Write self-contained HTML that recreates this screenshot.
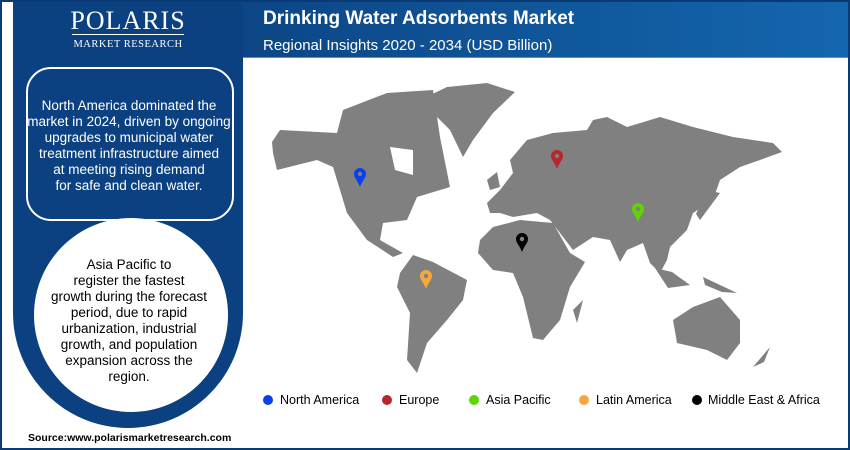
<!DOCTYPE html>
<html><head><meta charset="utf-8"><style>
body{margin:0;width:850px;height:450px;overflow:hidden;background:#fff;font-family:"Liberation Sans",Arial,sans-serif}
#f{position:absolute;left:0;top:0;width:846px;height:446px;border:2px solid #0a3a73;}
</style></head><body>
<div id="f"></div>
<svg width="850" height="450" style="position:absolute;left:0;top:0">
<defs><linearGradient id="hg" x1="0" x2="1"><stop offset="0" stop-color="#0c4686"/><stop offset="1" stop-color="#1466ae"/></linearGradient></defs>
<rect x="243" y="2" width="605" height="56" fill="url(#hg)"/>
<rect x="243" y="57" width="605" height="1" fill="#5b8fc8"/>
<path d="M13 2 H243 V313 A115 115 0 0 1 13 313 Z" fill="#0b4181"/>
<circle cx="131" cy="315" r="97" fill="#fff"/>
<rect x="27" y="68" width="206" height="152" rx="24" fill="none" stroke="#fff" stroke-width="2"/>
<text x="128" y="29" text-anchor="middle" fill="#fff" font-family="Liberation Serif,serif" font-size="26" letter-spacing="1">POLARIS</text>
<rect x="72" y="34" width="112" height="1" fill="#fff"/>
<text x="128" y="47" text-anchor="middle" fill="#fff" font-family="Liberation Serif,serif" font-size="10.5" letter-spacing="0.5">MARKET RESEARCH</text>
<g fill="#fff" font-size="13.5" text-anchor="middle">
<text x="129" y="110">North America dominated the</text>
<text x="129" y="126">market in 2024, driven by ongoing</text>
<text x="129" y="142">upgrades to municipal water</text>
<text x="129" y="158">treatment infrastructure aimed</text>
<text x="129" y="174">at meeting rising demand</text>
<text x="129" y="190">for safe and clean water.</text>
</g>
<g fill="#000" font-size="13.5" text-anchor="middle">
<text x="129" y="269">Asia Pacific to</text>
<text x="129" y="285">register the fastest</text>
<text x="129" y="301">growth during the forecast</text>
<text x="129" y="317">period, due to rapid</text>
<text x="129" y="333">urbanization, industrial</text>
<text x="129" y="349">growth, and population</text>
<text x="129" y="365">expansion across the</text>
<text x="129" y="381">region.</text>
</g>
<text x="28" y="441" font-size="10.5" font-weight="bold" fill="#000">Source:www.polarismarketresearch.com</text>
<text x="263" y="24" font-size="19" font-weight="bold" fill="#fff">Drinking Water Adsorbents Market</text>
<text x="263" y="50" font-size="15" fill="#fff">Regional Insights 2020 - 2034 (USD Billion)</text>
<g fill="#808080">
<polygon points="272,142 280,130 337,133 343,110 387,93 433,90 440,137 450,187 417,197 407,220 383,223 380,240 403,253 393,257 367,240 347,213 340,190 333,167 317,160 277,170 273,153"/>
<polygon points="420,100 447,87 487,83 515,92 493,113 473,140 463,157 450,130"/>
<polygon points="400,273 413,255 433,262 467,280 463,300 447,320 427,343 417,373 407,360 410,313 397,287"/>
<polygon points="490,213 487,203 500,190 513,173 510,160 527,140 553,133 587,130 593,120 607,117 627,127 660,117 693,127 733,137 773,143 782,152 760,160 740,167 720,180 713,200 693,213 687,230 670,247 667,260 660,273 650,263 643,243 627,250 620,262 610,240 593,237 573,250 560,233 550,220 537,213 513,217 500,213"/>
<polygon points="480,240 493,227 520,220 553,223 570,253 585,262 570,287 560,320 543,340 533,338 523,297 513,273 493,270 478,253"/>
<polygon points="573,310 583,300 577,323"/>
<polygon points="673,320 693,307 720,297 740,320 740,343 727,360 707,350 677,343"/>
<polygon points="707,190 720,193 700,220 696,214"/>
<polygon points="487,180 497,172 500,187 490,190"/>
<polygon points="655,268 672,272 690,285 668,288"/>
<polygon points="703,277 737,293 722,292 705,285"/>
<polygon points="753,367 770,347 764,362"/>
</g>
<path d="M390 147 L413 150 L413 175 L395 170 Z" fill="#fff"/>
<g>
<path d="M0 0 a6 6 0 0 1 6 6 c0 4 -4 7 -6 13 c-2 -6 -6 -9 -6 -13 a6 6 0 0 1 6 -6 z" fill="#0a3ff0" transform="translate(360,168)"/>
<path d="M0 0 a6 6 0 0 1 6 6 c0 4 -4 7 -6 13 c-2 -6 -6 -9 -6 -13 a6 6 0 0 1 6 -6 z" fill="#b8262c" transform="translate(557,150)"/>
<path d="M0 0 a6 6 0 0 1 6 6 c0 4 -4 7 -6 13 c-2 -6 -6 -9 -6 -13 a6 6 0 0 1 6 -6 z" fill="#5fd400" transform="translate(638,203)"/>
<path d="M0 0 a6 6 0 0 1 6 6 c0 4 -4 7 -6 13 c-2 -6 -6 -9 -6 -13 a6 6 0 0 1 6 -6 z" fill="#000" transform="translate(522,233)"/>
<path d="M0 0 a6 6 0 0 1 6 6 c0 4 -4 7 -6 13 c-2 -6 -6 -9 -6 -13 a6 6 0 0 1 6 -6 z" fill="#f7a73a" transform="translate(426,270)"/>
<g fill="#808080"><circle cx="360" cy="174" r="2.2"/><circle cx="557" cy="156" r="2.2"/><circle cx="638" cy="209" r="2.2"/><circle cx="522" cy="239" r="2.2"/><circle cx="426" cy="276" r="2.2"/></g>
</g>
<g font-size="12.5" fill="#000">
<circle cx="268" cy="400" r="5" fill="#0a3ff0"/><text x="280" y="404">North America</text>
<circle cx="387" cy="400" r="5" fill="#b8262c"/><text x="399" y="404">Europe</text>
<circle cx="474" cy="400" r="5" fill="#5fd400"/><text x="486" y="404">Asia Pacific</text>
<circle cx="584" cy="400" r="5" fill="#f7a73a"/><text x="596" y="404">Latin America</text>
<circle cx="697" cy="400" r="5" fill="#000"/><text x="708" y="404">Middle East &amp; Africa</text>
</g>
</svg>
</body></html>
